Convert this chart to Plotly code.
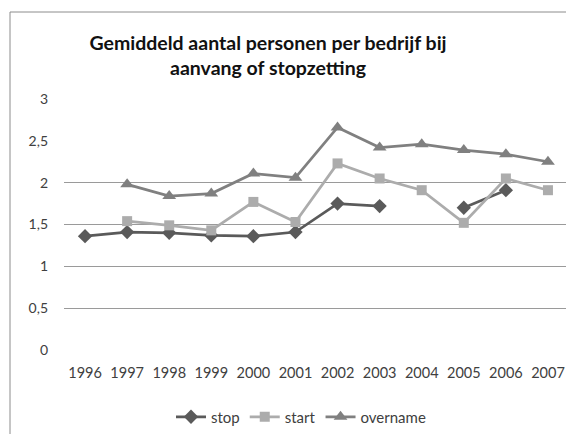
import plotly.graph_objects as go

years = ["1996", "1997", "1998", "1999", "2000", "2001", "2002", "2003", "2004", "2005", "2006", "2007"]
stop = [1.36, 1.41, 1.40, 1.37, 1.36, 1.41, 1.75, 1.72, None, 1.70, 1.91, None]
start = [None, 1.54, 1.49, 1.43, 1.77, 1.53, 2.23, 2.05, 1.91, 1.52, 2.05, 1.91]
overname = [None, 1.98, 1.84, 1.87, 2.11, 2.06, 2.66, 2.42, 2.46, 2.39, 2.34, 2.25]
# gridlines visible in the reference (the 2,5 and 0 lines are not drawn)
grid_values = [0.5, 1, 1.5, 2, 3]

# page has an 8px body margin: build the figure in window coords minus 8
OFF = 8
W, H = 574 - OFF, 434 - OFF
ml, mr, mt, mb = 64 - OFF, 5, 99 - OFF, 84

fig = go.Figure()
fig.add_trace(go.Scatter(x=years, y=stop, name="stop", mode="lines+markers",
                         line=dict(color="#5a5a5a", width=2.75),
                         marker=dict(symbol="diamond", size=11, color="#5a5a5a"),
                         connectgaps=False))
fig.add_trace(go.Scatter(x=years, y=start, name="start", mode="lines+markers",
                         line=dict(color="#acacac", width=2.75),
                         marker=dict(symbol="square", size=10, color="#acacac"),
                         connectgaps=False))
fig.add_trace(go.Scatter(x=years, y=overname, name="overname", mode="lines+markers",
                         line=dict(color="#808080", width=2.75),
                         marker=dict(symbol="triangle-up", size=12, color="#808080"),
                         connectgaps=False))

pw = W - ml - mr
ph = H - mt - mb
def px_x(p):
    return (p - OFF - ml) / pw
def px_y(p):
    return (H - mb - (p - OFF)) / ph

fig.add_shape(type="line", xref="paper", yref="paper",
              x0=px_x(10), x1=px_x(590), y0=px_y(12), y1=px_y(12),
              line=dict(color="#8c8c8c", width=1))
fig.add_shape(type="line", xref="paper", yref="paper",
              x0=px_x(10), x1=px_x(10), y0=px_y(12), y1=px_y(450),
              line=dict(color="#8c8c8c", width=1))

fig.update_layout(
    width=W, height=H,
    margin=dict(l=ml, r=mr, t=mt, b=mb, autoexpand=False),
    paper_bgcolor="white", plot_bgcolor="white",
    separators=",.",
    font=dict(family="Lato, Carlito, sans-serif", size=12, color="#404040"),
    title=dict(text="<b>Gemiddeld aantal personen per bedrijf bij<br>aanvang of stopzetting</b>",
               x=(268 - OFF) / W, xanchor="center", y=1 - (56 - OFF - 6) / H, yanchor="middle",
               font=dict(family="Lato, sans-serif", size=19.5, color="#111111")),
    showlegend=True,
    legend=dict(orientation="h", x=px_x(301), xanchor="center", y=px_y(417), yanchor="middle",
                font=dict(size=15, color="#404040"), itemwidth=30, tracegroupgap=0),
    xaxis=dict(type="category", showgrid=False, showline=False, ticks="", automargin=False,
               ticklabelstandoff=12,
               tickfont=dict(size=14.5, color="#404040"), range=[-0.5, 11.5]),
    yaxis=dict(range=[0, 3], dtick=0.5, showgrid=False,
               zeroline=False, showline=False, ticks="", ticklabelstandoff=15, automargin=False,
               tickfont=dict(size=14, color="#404040")),
    yaxis2=dict(range=[0, 3], overlaying="y", side="left", tickmode="array", tickvals=grid_values,
                showgrid=True, gridcolor="#9a9a9a", gridwidth=1, showticklabels=False,
                zeroline=False, showline=False, ticks="", automargin=False),
)
# invisible helper trace so the grid axis is drawn
fig.add_trace(go.Scatter(x=[years[0]], y=[grid_values[0]], yaxis="y2", mode="markers",
                         marker=dict(opacity=0), showlegend=False, hoverinfo="skip"))

fig.write_html("out.html")
